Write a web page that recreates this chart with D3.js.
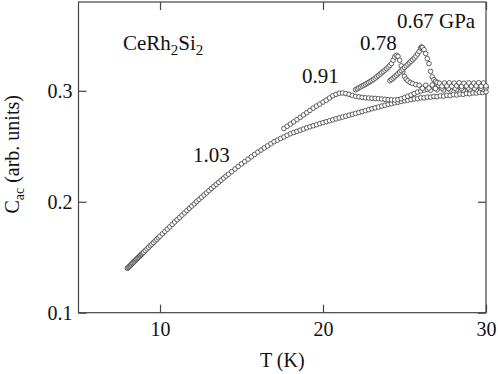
<!DOCTYPE html>
<html>
<head>
<meta charset="utf-8">
<script src="https://cdn.jsdelivr.net/npm/d3@7"></script>
<style>
  body { margin: 0; background: #fff; }
  svg { display: block; }
  text { font-family: "Liberation Serif", "Times New Roman", serif; fill: #111; }
</style>
</head>
<body>
<svg width="498" height="374"></svg>
<script>
const svg = d3.select("svg");
const width = +svg.attr("width");
const height = +svg.attr("height");
const margin = { top: 2, right: 12, bottom: 61.3, left: 78.5 };

// *** DATA (T in K, Cac in arb. units) ***
const xTicks = [10, 20, 30];
const yTicks = [0.1, 0.2, 0.3];

const p103 = [
  [8.00,.1400],[8.05,.1407],[8.10,.1415],[8.15,.1422],[8.20,.1429],[8.25,.1437],[8.30,.1444],[8.35,.1451],[8.40,.1458],
  [8.45,.1466],[8.50,.1473],[8.55,.1480],[8.60,.1488],[8.65,.1495],[8.70,.1502],[8.75,.1510],[8.80,.1517],[8.85,.1524],
  [8.90,.1531],[8.95,.1539],[9.00,.1546],[9.1,.1560],[9.2,.1575],[9.3,.1589],[9.4,.1604],[9.5,.1618],[9.6,.1632],
  [9.7,.1647],[9.8,.1661],[9.9,.1676],[10.0,.1690],[10.15,.1711],[10.3,.1732],[10.45,.1753],[10.6,.1774],[10.75,.1796],
  [10.9,.1817],[11.05,.1838],[11.2,.1858],[11.35,.1879],[11.5,.1900],[11.65,.1920],[11.8,.1941],[11.95,.1961],[12.1,.1981],
  [12.25,.2001],[12.4,.2021],[12.55,.2041],[12.7,.2060],[12.85,.2080],[13.0,.2100],[13.15,.2119],[13.3,.2138],[13.45,.2156],
  [13.6,.2175],[13.75,.2194],[13.9,.2213],[14.05,.2231],[14.2,.2248],[14.4,.2271],[14.6,.2295],[14.8,.2318],[15.0,.2341],
  [15.2,.2362],[15.4,.2383],[15.6,.2405],[15.8,.2426],[16.0,.2447],[16.2,.2466],[16.4,.2485],[16.6,.2503],[16.8,.2522],
  [17.0,.2541],[17.2,.2555],[17.4,.2570],[17.6,.2584],[17.8,.2599],[18.0,.2613],[18.2,.2624],[18.4,.2634],[18.6,.2645],
  [18.8,.2655],[19.0,.2666],[19.2,.2675],[19.4,.2685],[19.6,.2694],[19.8,.2704],[20.0,.2713],[20.2,.2721],[20.4,.2730],
  [20.6,.2738],[20.8,.2747],[21.0,.2755],[21.2,.2763],[21.4,.2771],[21.6,.2780],[21.8,.2788],[22.0,.2796],[22.2,.2804],
  [22.4,.2813],[22.6,.2821],[22.8,.2830],[23.0,.2838],[23.2,.2846],[23.4,.2854],[23.6,.2862],[23.8,.2870],[24.0,.2878],
  [24.2,.2884],[24.4,.2891],[24.6,.2897],[24.8,.2904],[25.0,.2910],[25.2,.2915],[25.4,.2920],[25.6,.2927],[25.8,.2928],
  [26.0,.2937],[26.2,.2936],[26.4,.2943],[26.6,.2942],[26.8,.2949],[27.0,.2947],[27.2,.2954],[27.4,.2952],[27.6,.2959],
  [27.8,.2957],[28.0,.2965],[28.2,.2962],[28.4,.2970],[28.6,.2968],[28.8,.2975],[29.0,.2973],[29.2,.2981],[29.4,.2979],
  [29.6,.2986],[29.8,.2984],[30.0,.2991]
];

const p091 = [
  [17.6,.2660],[17.8,.2680],[18.0,.2700],[18.2,.2720],[18.4,.2740],[18.6,.2760],[18.8,.2782],[19.0,.2802],[19.2,.2823],
  [19.4,.2844],[19.6,.2862],[19.8,.2880],[20.0,.2898],[20.2,.2915],[20.4,.2935],[20.6,.2955],[20.8,.2968],[21.0,.2978],
  [21.2,.2980],[21.4,.2975],[21.6,.2968],[21.8,.2958],[22.0,.2950],[22.2,.2945],[22.4,.2940],[22.6,.2937],[22.8,.2935],
  [23.0,.2933],[23.2,.2931],[23.4,.2929],[23.6,.2926],[23.8,.2923],[24.0,.2920],[24.2,.2918],[24.4,.2917],[24.6,.2920],
  [24.8,.2928],[25.0,.2938],[25.2,.2950],[25.4,.2962],[25.6,.2975],[25.8,.2988],[26.0,.2998],[26.2,.3006],[26.4,.3012],
  [26.6,.3005],[26.8,.3032],[27.0,.3008],[27.2,.3034],[27.4,.3006],[27.6,.3036],[27.8,.3007],[28.0,.3033],[28.2,.3009],
  [28.4,.3035],[28.6,.3006],[28.8,.3034],[29.0,.3010],[29.2,.3036],[29.4,.3008],[29.6,.3035],[29.8,.3011],[30.0,.3033]
];

const p078 = [
  [22.0,.3010],[22.1,.3018],[22.2,.3027],[22.3,.3035],[22.4,.3043],[22.5,.3050],[22.6,.3058],[22.7,.3066],[22.8,.3075],
  [22.9,.3084],[23.0,.3093],[23.1,.3103],[23.2,.3114],[23.3,.3126],[23.4,.3138],[23.5,.3150],[23.6,.3162],[23.7,.3174],
  [23.8,.3186],[23.9,.3199],[24.0,.3213],[24.1,.3228],[24.2,.3245],[24.3,.3275],[24.4,.3305],[24.5,.3320],[24.6,.3310],
  [24.7,.3275],[24.8,.3225],[24.9,.3170],[25.0,.3130],[25.1,.3105],[25.2,.3090],[25.35,.3075],[25.5,.3065],[25.7,.3056],
  [25.9,.3050],[26.1,.3022],[26.3,.3050],[26.5,.3024],[26.7,.3052],[26.9,.3021],[27.1,.3049],[27.3,.3023],[27.5,.3051],
  [27.7,.3020],[27.9,.3048],[28.1,.3024],[28.3,.3052],[28.5,.3021],[28.7,.3049],[28.9,.3025],[29.1,.3051],[29.3,.3022],
  [29.5,.3050],[29.7,.3023],[29.9,.3048],[30.0,.3026]
];

const p067 = [
  [24.1,.3090],[24.2,.3102],[24.3,.3114],[24.4,.3126],[24.5,.3140],[24.6,.3154],[24.7,.3168],[24.8,.3182],[24.9,.3196],
  [25.0,.3210],[25.1,.3224],[25.2,.3238],[25.3,.3252],[25.4,.3266],[25.5,.3280],[25.6,.3295],[25.7,.3312],[25.8,.3332],
  [25.9,.3355],[26.0,.3385],[26.05,.3395],[26.1,.3390],[26.2,.3370],[26.3,.3335],[26.4,.3290],[26.5,.3245],[26.6,.3175],
  [26.7,.3125],[26.8,.3100],[26.9,.3085],[27.0,.3075],[27.15,.3068],[27.3,.3042],[27.45,.3070],[27.6,.3044],[27.75,.3071],
  [27.9,.3041],[28.05,.3069],[28.2,.3045],[28.35,.3072],[28.5,.3040],[28.65,.3068],[28.8,.3043],[28.95,.3071],[29.1,.3042],
  [29.25,.3069],[29.4,.3044],[29.55,.3072],[29.7,.3041],[29.85,.3070],[30.0,.3043]
];

const series = [p103, p091, p078, p067];
const pressureLabels = [
  { text: "1.03", T: 12.02, C: 0.2358 },
  { text: "0.91", T: 18.71, C: 0.3070 },
  { text: "0.78", T: 22.27, C: 0.3368 },
  { text: "0.67 GPa", T: 24.54, C: 0.3566 }
];

// *** SCALES ***
const x = d3.scaleLinear().domain([5, 30]).range([margin.left, width - margin.right]);
const y = d3.scaleLinear().domain([0.1, 0.38]).range([height - margin.bottom, margin.top]);

const axisColor = "#444";

// frame
svg.append("rect")
    .attr("x", x(5))
    .attr("y", y(0.38))
    .attr("width", x(30) - x(5))
    .attr("height", y(0.1) - y(0.38))
    .attr("fill", "none")
    .attr("stroke", axisColor)
    .attr("stroke-width", 1.2);

function styleAxis(g, labels) {
    g.select(".domain").remove();
    g.selectAll(".tick line").attr("stroke", axisColor).attr("stroke-width", 1.2);
    g.selectAll(".tick text")
        .attr("font-size", 20)
        .attr("font-family", "Liberation Serif, serif")
        .attr("fill", "#111")
        .style("display", labels ? null : "none");
}

svg.append("g")
    .attr("transform", `translate(0,${y(0.1)})`)
    .call(d3.axisBottom(x).tickValues(xTicks).tickSizeInner(-8).tickSizeOuter(0).tickPadding(9).tickFormat(d3.format("d")))
    .call(g => styleAxis(g, true));

svg.append("g")
    .attr("transform", `translate(0,${y(0.38)})`)
    .call(d3.axisTop(x).tickValues(xTicks).tickSizeInner(-8).tickSizeOuter(0))
    .call(g => styleAxis(g, false));

svg.append("g")
    .attr("transform", `translate(${x(5)},0)`)
    .call(d3.axisLeft(y).tickValues(yTicks).tickSizeInner(-8).tickSizeOuter(0).tickPadding(6).tickFormat(d3.format(".1f")))
    .call(g => styleAxis(g, true));

svg.append("g")
    .attr("transform", `translate(${x(30)},0)`)
    .call(d3.axisRight(y).tickValues(yTicks).tickSizeInner(-8).tickSizeOuter(0))
    .call(g => styleAxis(g, false));

// *** DATA POINTS ***
const pts = svg.append("g");
series.forEach(s => {
    pts.selectAll(null)
        .data(s)
        .enter().append("circle")
        .attr("cx", d => x(d[0]))
        .attr("cy", d => y(d[1]))
        .attr("r", 2.3)
        .attr("fill", "#fff")
        .attr("stroke", "#444")
        .attr("stroke-width", 0.85);
});

// *** LABELS ***
svg.selectAll(".plabel")
    .data(pressureLabels)
    .enter().append("text")
    .attr("class", "plabel")
    .attr("x", d => x(d.T))
    .attr("y", d => y(d.C))
    .attr("font-size", 21)
    .text(d => d.text);

const comp = svg.append("text")
    .attr("x", x(7.73))
    .attr("y", y(0.3368))
    .attr("font-size", 21);
comp.append("tspan").text("CeRh");
comp.append("tspan").attr("font-size", 15).attr("dy", 5).text("2");
comp.append("tspan").attr("dy", -5).text("Si");
comp.append("tspan").attr("font-size", 15).attr("dy", 5).text("2");

svg.append("text")
    .attr("x", (x(5) + x(30)) / 2)
    .attr("y", 367)
    .attr("text-anchor", "middle")
    .attr("font-size", 20)
    .text("T (K)");

const ylab = svg.append("text")
    .attr("transform", `translate(19,${(y(0.1) + y(0.38)) / 2 - 3}) rotate(-90)`)
    .attr("text-anchor", "middle")
    .attr("font-size", 20);
ylab.append("tspan").text("C");
ylab.append("tspan").attr("font-size", 14).attr("dy", 5).text("ac");
ylab.append("tspan").attr("dy", -5).text(" (arb. units)");
</script>
</body>
</html>
